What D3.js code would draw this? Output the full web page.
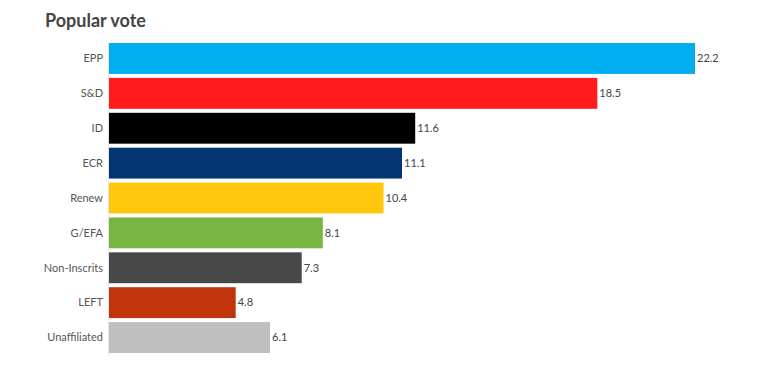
<!DOCTYPE html>
<html>
<head>
<meta charset="utf-8">
<script src="https://cdn.jsdelivr.net/npm/d3@7"></script>
<style>
  body { margin: 0; background: #fff; }
  svg { display: block; font-family: Lato, "Open Sans", sans-serif; }
</style>
</head>
<body>
<svg id="chart"></svg>
<script>
// popular vote by group
const groups = ["EPP", "S&D", "ID", "ECR", "Renew", "G/EFA", "Non-Inscrits", "LEFT", "Unaffiliated"];
const votes = [22.2, 18.5, 11.6, 11.1, 10.4, 8.1, 7.3, 4.8, 6.1];
const colors = ["#00aeef", "#ff1a1c", "#000000", "#033572", "#ffc60b", "#79b542", "#484848", "#c1330b", "#bfbfbf"];

const width = 783;
const height = 367;
const margin = { top: 42, right: 88, bottom: 11, left: 109 };

const svg = d3.select("#chart")
  .attr("width", width)
  .attr("height", height);

svg.append("text")
  .attr("x", 45)
  .attr("y", 27)
  .attr("font-size", 18)
  .attr("font-weight", 700)
  .attr("fill", "#454545")
  .text("Popular vote");

const x = d3.scaleLinear()
  .domain([0, d3.max(votes)])
  .range([margin.left, width - margin.right]);

const y = d3.scaleBand()
  .domain(groups)
  .range([margin.top, height - margin.bottom - 2])
  .paddingInner(0.115)
  .paddingOuter(0.03);

const data = groups.map((g, i) => ({ group: g, value: votes[i], color: colors[i] }));

svg.selectAll("rect.bar")
  .data(data)
  .enter()
  .append("rect")
  .attr("class", "bar")
  .attr("x", x(0))
  .attr("y", d => y(d.group))
  .attr("width", d => x(d.value) - x(0))
  .attr("height", y.bandwidth())
  .attr("fill", d => d.color);

// axis line on the left
svg.append("line")
  .attr("x1", margin.left - 0.5)
  .attr("x2", margin.left - 0.5)
  .attr("y1", margin.top)
  .attr("y2", height - margin.bottom)
  .attr("stroke", "#e6e6e6");

svg.selectAll("text.cat")
  .data(data)
  .enter()
  .append("text")
  .attr("class", "cat")
  .attr("x", margin.left - 6)
  .attr("y", d => y(d.group) + y.bandwidth() / 2)
  .attr("dy", "0.35em")
  .attr("text-anchor", "end")
  .attr("font-size", 11)
  .attr("fill", "#555")
  .text(d => d.group);

svg.selectAll("text.val")
  .data(data)
  .enter()
  .append("text")
  .attr("class", "val")
  .attr("x", d => x(d.value) + 2)
  .attr("y", d => y(d.group) + y.bandwidth() / 2)
  .attr("dy", "0.35em")
  .attr("font-size", 11)
  .attr("fill", "#444")
  .text(d => d.value);
</script>
</body>
</html>
